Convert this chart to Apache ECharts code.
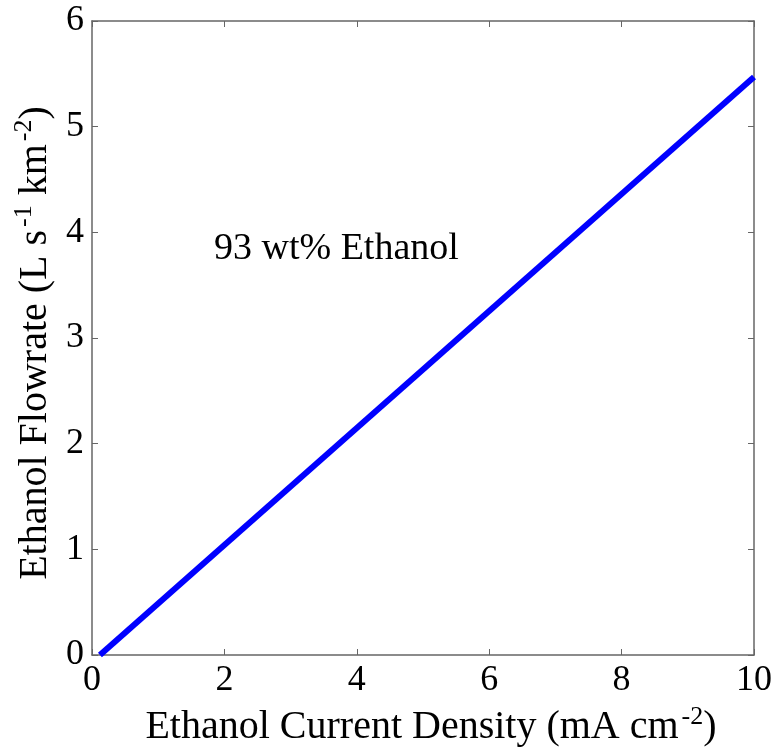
<!DOCTYPE html>
<html>
<head>
<meta charset="utf-8">
<script src="https://cdn.jsdelivr.net/npm/echarts@6/dist/echarts.min.js"></script>
<style>
  html, body { margin: 0; padding: 0; background: #fff; }
  #chart { width: 775px; height: 756px; }
</style>
</head>
<body>
<div id="chart"></div>
<script>
  // values
  let currentDensity = [0.12, 10]
  let flowrate = [0, 5.47]
  let xTicks = [0, 2, 4, 6, 8, 10]
  let yTicks = [0, 1, 2, 3, 4, 5, 6]

  let font = 'Liberation Serif'
  let frame = '#666'

  let chart = echarts.init(document.getElementById('chart'))

  let supRich = {
    t: { fontFamily: font, fontSize: 40, color: '#000' },
    s: { fontFamily: font, fontSize: 26, color: '#000', verticalAlign: 'top', padding: [0, 0, 22, 3] }
  }

  // mirrored axes on top / right, only line + inner ticks
  let boxAxis = {
    axisLine: { show: true, onZero: false, lineStyle: { color: frame, width: 1.5 } },
    axisTick: { show: true, inside: true, length: 6, lineStyle: { color: frame } },
    axisLabel: { show: false },
    splitLine: { show: false }
  }

  chart.setOption({
    animation: false,
    grid: { left: 92, right: 21, top: 21, bottom: 101 },
    xAxis: [{
      type: 'value',
      min: xTicks[0],
      max: xTicks[xTicks.length - 1],
      interval: 2,
      axisLine: { show: true, onZero: false, lineStyle: { color: frame, width: 1.5 } },
      axisTick: { show: true, inside: true, length: 6, lineStyle: { color: frame } },
      axisLabel: { fontFamily: font, fontSize: 36, color: '#000', margin: 8 },
      splitLine: { show: false },
      name: '{t|Ethanol Current Density (mA cm}{s|-2}{t|)}',
      nameLocation: 'middle',
      nameGap: 46,
      nameTextStyle: { rich: supRich, padding: [0, 0, 0, 16] }
    }, Object.assign({
      type: 'value', position: 'top',
      min: xTicks[0], max: xTicks[xTicks.length - 1], interval: 2
    }, boxAxis)],
    yAxis: [{
      type: 'value',
      min: yTicks[0],
      max: yTicks[yTicks.length - 1],
      interval: 1,
      axisLine: { show: true, onZero: false, lineStyle: { color: frame, width: 1.5 } },
      axisTick: { show: true, inside: true, length: 6, lineStyle: { color: frame } },
      axisLabel: { fontFamily: font, fontSize: 36, color: '#000', margin: 8 },
      splitLine: { show: false },
      name: '{t|Ethanol Flowrate (L s}{s|-1}{t| km}{s|-2}{t|)}',
      nameLocation: 'middle',
      nameGap: 30,
      nameRotate: 90,
      nameTextStyle: { rich: supRich, padding: [16, 10, 0, 0] }
    }, Object.assign({
      type: 'value', position: 'right',
      min: yTicks[0], max: yTicks[yTicks.length - 1], interval: 1
    }, boxAxis)],
    graphic: [{
      type: 'text',
      left: 214,
      top: 230,
      style: { text: '93 wt% Ethanol', font: '38px "Liberation Serif"', fill: '#000' }
    }],
    series: [{
      type: 'line',
      data: currentDensity.map((x, i) => [x, flowrate[i]]),
      showSymbol: false,
      lineStyle: { color: '#0000ff', width: 6 },
      clip: false
    }]
  })
</script>
</body>
</html>
